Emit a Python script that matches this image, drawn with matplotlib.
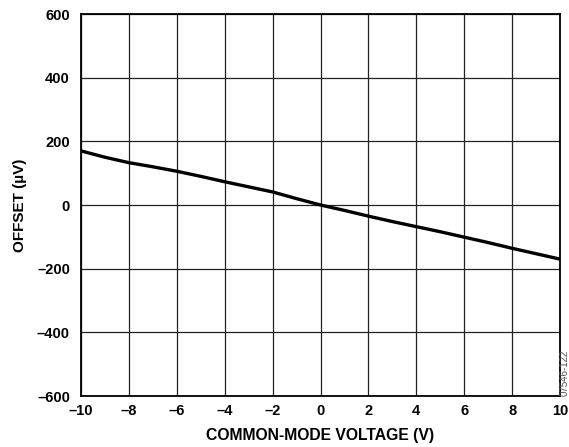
import matplotlib
matplotlib.use("Agg")
import matplotlib.pyplot as plt

plt.rcParams['font.family'] = ['Liberation Sans', 'DejaVu Sans']
plt.rcParams['axes.unicode_minus'] = False

# common-mode voltage (V) and offset (uV)
vcm = [-10, -9, -8, -7, -6, -5, -4, -3, -2, -1, 0, 1, 2, 3, 4, 5, 6, 7, 8, 9, 10]
offset = [170, 150, 133, 120, 106, 90, 73, 57, 41, 20, 0, -17, -35, -52, -68, -84,
          -101, -118, -136, -153, -170]

xticks = list(range(-10, 11, 2))
yticks = list(range(-600, 601, 200))

fig = plt.figure(figsize=(5.69, 4.47), dpi=100)
ax = fig.add_axes([81 / 569, 1 - 396 / 447, (560 - 81) / 569, (396 - 14) / 447])

ax.plot(vcm, offset, color='black', lw=2.4, solid_capstyle='butt')

ax.set_xlim(-10, 10)
ax.set_ylim(-600, 600)
ax.set_xticks(xticks)
ax.set_yticks(yticks)
ax.set_xticklabels([str(t).replace('-', '\u2013') for t in xticks])
ax.set_yticklabels([str(t).replace('-', '\u2013') for t in yticks])
ax.tick_params(length=0, labelsize=10.5)
ax.tick_params(axis='x', pad=6)
ax.tick_params(axis='y', pad=8)
for lab in ax.get_xticklabels() + ax.get_yticklabels():
    lab.set_fontweight('bold')

ax.grid(True, color='#222222', lw=0.9)
ax.set_axisbelow(True)
for s in ax.spines.values():
    s.set_linewidth(1.3)

ax.set_xlabel('COMMON-MODE VOLTAGE (V)', fontsize=11.3, fontweight='bold', labelpad=7)
ax.set_ylabel('OFFSET (\u00b5V)', fontsize=11, fontweight='bold', labelpad=7)

fig.text(565 / 569, 1 - 373 / 447, '07546-122', rotation=90, fontsize=7,
         color='#555555', ha='center', va='center')

fig.savefig('out.png', dpi=100)
